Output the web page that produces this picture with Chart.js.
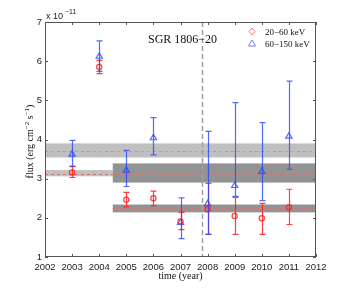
<!DOCTYPE html>
<html>
<head>
<meta charset="utf-8">
<script src="https://cdn.jsdelivr.net/npm/chart.js@4"></script>
<style>
  html, body { margin: 0; padding: 0; background: #fff; }
  #wrap { width: 349px; height: 292px; position: relative; }
</style>
</head>
<body>
<div id="wrap"><canvas id="chart" width="349" height="292"></canvas></div>
<script>
// observation years
var years = [2003, 2004, 2005, 2006, 2007, 2008, 2009, 2010, 2011];

// 20-60 keV flux (x 1e-11) with lower / upper error ends
var lowFlux = [3.16, 5.85, 2.46, 2.50, 1.91, 2.22, 2.05, 1.99, 2.27];
var lowLo   = [3.03, 5.68, 2.28, 2.31, 1.70, 1.58, 1.58, 1.58, 1.83];
var lowHi   = [3.31, 6.02, 2.65, 2.68, 2.14, 2.88, 2.52, 2.37, 2.73];

// 60-150 keV flux (x 1e-11)
var highFlux = [3.62, 6.12, 3.21, 4.04, 1.88, 2.36, 2.82, 3.18, 4.08];
var highLo   = [3.32, 5.74, 2.80, 3.61, 1.47, 1.58, 2.55, 2.44, 3.24];
var highHi   = [3.98, 6.52, 3.72, 4.56, 2.51, 4.21, 4.94, 4.43, 5.49];

// mean levels with 1 sigma bands
var bandFrom  = [2002, 2002, 2004.5, 2004.5];
var bandTo    = [2012, 2004.5, 2012, 2012];
var bandLo    = [3.54, 3.06, 2.90, 2.14];
var bandHi    = [3.90, 3.22, 3.39, 2.34];
var bandShade = ['#c0c0c0', '#c0c0c0', '#939393', '#939393'];

var meanFrom  = [2002, 2002, 2004.5];
var meanTo    = [2012, 2012, 2012];
var meanLevel = [3.71, 3.13, 2.24];
var meanColor = ['#9a9aee', '#ef6a6a', '#ef6a6a'];

var xTicks = [2002, 2003, 2004, 2005, 2006, 2007, 2008, 2009, 2010, 2011, 2012];
var yTicks = [1, 2, 3, 4, 5, 6, 7];
var eventYear = 2007.8;

var RED = 'rgba(255,30,30,0.85)';
var BLUE = 'rgba(40,70,255,0.8)';

function pts(ys) {
  var out = [];
  for (var i = 0; i < years.length; i++) out.push({x: years[i], y: ys[i]});
  return out;
}

var bandsPlugin = {
  id: 'bands',
  beforeDatasetsDraw: function(chart) {
    var ctx = chart.ctx, xs = chart.scales.x, ys = chart.scales.y;
    ctx.save();
    for (var i = 0; i < bandLo.length; i++) {
      var x0 = xs.getPixelForValue(bandFrom[i]), x1 = xs.getPixelForValue(bandTo[i]);
      var y0 = ys.getPixelForValue(bandHi[i]), y1 = ys.getPixelForValue(bandLo[i]);
      ctx.fillStyle = bandShade[i];
      ctx.fillRect(x0, y0, x1 - x0, y1 - y0);
    }
    ctx.setLineDash([3, 3]);
    ctx.lineWidth = 1;
    for (var j = 0; j < meanLevel.length; j++) {
      var yy = Math.round(ys.getPixelForValue(meanLevel[j])) + 0.5;
      ctx.strokeStyle = meanColor[j];
      ctx.beginPath();
      ctx.moveTo(xs.getPixelForValue(meanFrom[j]), yy);
      ctx.lineTo(xs.getPixelForValue(meanTo[j]), yy);
      ctx.stroke();
    }
    // event line
    var ex = Math.round(xs.getPixelForValue(eventYear)) + 0.5;
    ctx.strokeStyle = '#a0a0a0';
    ctx.lineWidth = 1.5;
    ctx.setLineDash([5, 3]);
    ctx.beginPath();
    ctx.moveTo(ex, chart.chartArea.top);
    ctx.lineTo(ex, chart.chartArea.bottom);
    ctx.stroke();
    ctx.setLineDash([]);

    // error bars
    function bars(lo, hi, col) {
      ctx.strokeStyle = col;
      ctx.lineWidth = 1.2;
      for (var k = 0; k < years.length; k++) {
        var x = Math.round(xs.getPixelForValue(years[k])) + 0.5;
        var a = ys.getPixelForValue(lo[k]), b = ys.getPixelForValue(hi[k]);
        ctx.beginPath();
        ctx.moveTo(x, a); ctx.lineTo(x, b);
        ctx.moveTo(x - 3, a); ctx.lineTo(x + 3, a);
        ctx.moveTo(x - 3, b); ctx.lineTo(x + 3, b);
        ctx.stroke();
      }
    }
    bars(lowLo, lowHi, RED);
    bars(highLo, highHi, BLUE);
    ctx.restore();
  },
  afterDraw: function(chart) {
    var ctx = chart.ctx, xs = chart.scales.x, ys = chart.scales.y, a = chart.chartArea;
    ctx.save();
    // frame and inward ticks
    ctx.strokeStyle = '#555';
    ctx.lineWidth = 1;
    ctx.strokeRect(a.left + 0.5, a.top + 0.5, a.right - a.left - 1, a.bottom - a.top - 1);
    ctx.beginPath();
    xTicks.forEach(function(v) {
      var x = Math.round(xs.getPixelForValue(v)) + 0.5;
      ctx.moveTo(x, a.bottom); ctx.lineTo(x, a.bottom - 3);
      ctx.moveTo(x, a.top); ctx.lineTo(x, a.top + 3);
    });
    yTicks.forEach(function(v) {
      var y = Math.round(ys.getPixelForValue(v)) + 0.5;
      ctx.moveTo(a.left, y); ctx.lineTo(a.left + 3, y);
      ctx.moveTo(a.right, y); ctx.lineTo(a.right - 3, y);
    });
    ctx.stroke();

    // exponent
    ctx.fillStyle = '#222';
    ctx.font = '9px "Liberation Sans", Arial, sans-serif';
    ctx.textBaseline = 'alphabetic';
    ctx.textAlign = 'left';
    ctx.fillText('x 10', 46, 19);
    ctx.font = '7px "Liberation Sans", Arial, sans-serif';
    ctx.fillText('\u221211', 65, 14);

    // source name
    ctx.fillStyle = '#111';
    ctx.font = '12px "Liberation Serif", "Times New Roman", serif';
    ctx.fillText('SGR 1806\u221220', 148, 43);

    // legend
    ctx.font = '9px "Liberation Serif", "Times New Roman", serif';
    ctx.fillStyle = '#111';
    ctx.fillText('20\u221260 keV', 265, 35);
    ctx.fillText('60\u2212150 keV', 265, 47);
    ctx.lineWidth = 1;
    ctx.strokeStyle = '#ff7b7b';
    ctx.beginPath();
    ctx.moveTo(252, 28); ctx.lineTo(255, 31.5); ctx.lineTo(252, 35); ctx.lineTo(249, 31.5); ctx.closePath();
    ctx.stroke();
    ctx.strokeStyle = '#7b7bff';
    ctx.beginPath();
    ctx.moveTo(252, 40); ctx.lineTo(255.5, 46); ctx.lineTo(248.5, 46); ctx.closePath();
    ctx.stroke();

    // x title
    ctx.font = '10px "Liberation Serif", "Times New Roman", serif';
    ctx.textAlign = 'center';
    ctx.fillText('time (year)', (a.left + a.right) / 2, 279);

    // y title with superscripts
    ctx.translate(33, (a.top + a.bottom) / 2 + 2);
    ctx.rotate(-Math.PI / 2);
    ctx.textAlign = 'left';
    var parts = [['flux (erg cm', 0], ['\u22122', 1], [' s', 0], ['\u22121', 1], [')', 0]];
    var fMain = '10px "Liberation Serif", "Times New Roman", serif';
    var fSup = '7px "Liberation Serif", "Times New Roman", serif';
    var w = 0;
    parts.forEach(function(p) { ctx.font = p[1] ? fSup : fMain; w += ctx.measureText(p[0]).width; });
    var cx = -w / 2;
    parts.forEach(function(p) {
      ctx.font = p[1] ? fSup : fMain;
      ctx.fillText(p[0], cx, p[1] ? -4 : 0);
      cx += ctx.measureText(p[0]).width;
    });
    ctx.restore();
  }
};

var ctx = document.getElementById('chart').getContext('2d');
new Chart(ctx, {
  type: 'scatter',
  data: {
    datasets: [
      {
        label: '20\u221260 keV',
        data: pts(lowFlux),
        pointStyle: 'circle',
        pointRadius: 2.6,
        pointBorderWidth: 1.2,
        borderColor: RED,
        backgroundColor: 'rgba(0,0,0,0)'
      },
      {
        label: '60\u2212150 keV',
        data: pts(highFlux),
        pointStyle: 'triangle',
        pointRadius: 3.6,
        pointBorderWidth: 1.2,
        borderColor: BLUE,
        backgroundColor: 'rgba(0,0,0,0)'
      }
    ]
  },
  options: {
    responsive: false,
    animation: false,
    devicePixelRatio: 1,
    layout: { padding: { top: 22, right: 33, left: 0, bottom: 0 } },
    plugins: { legend: { display: false }, tooltip: { enabled: false } },
    scales: {
      x: {
        type: 'linear', min: 2002, max: 2012,
        grid: { display: false, drawTicks: false },
        border: { display: false },
        afterBuildTicks: function(s) { s.ticks = xTicks.map(function(v) { return {value: v}; }); },
        ticks: { padding: 5, color: '#222', maxRotation: 0, autoSkip: false,
                 callback: function(v) { return String(v); },
                 font: { family: '"Liberation Sans", Arial, sans-serif', size: 9.5 } },
        afterFit: function(s) { s.height = 35; }
      },
      y: {
        min: 1, max: 7,
        grid: { display: false, drawTicks: false },
        border: { display: false },
        afterBuildTicks: function(s) { s.ticks = yTicks.map(function(v) { return {value: v}; }); },
        ticks: { padding: 3, color: '#222',
                 font: { family: '"Liberation Sans", Arial, sans-serif', size: 9.5 } },
        afterFit: function(s) { s.width = 45; }
      }
    }
  },
  plugins: [bandsPlugin]
});
</script>
</body>
</html>
